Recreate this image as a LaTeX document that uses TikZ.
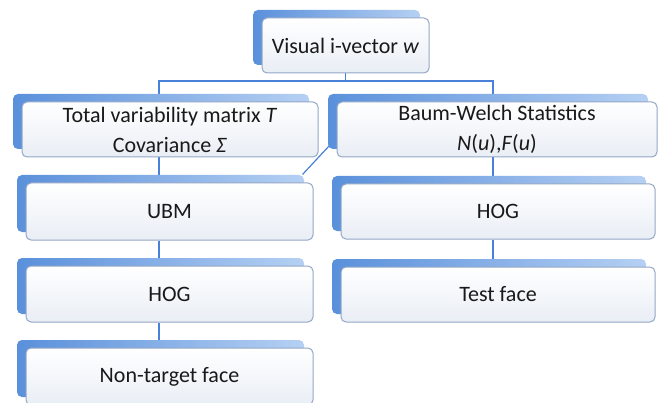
\documentclass[tikz,border=0pt]{standalone}
\usepackage{fontspec}
\setmainfont{Carlito}
\usetikzlibrary{calc,backgrounds}
\definecolor{bdark}{HTML}{5A90DB}
\definecolor{blight}{HTML}{B5D0F3}
\definecolor{cardedge}{HTML}{93A7C6}
\definecolor{cardbot}{HTML}{E9EEF5}
\definecolor{linkc}{HTML}{4880DA}
\tikzset{
  card/.style={draw=cardedge, line width=1pt, rounded corners=5pt,
    top color=white, bottom color=cardbot, align=center,
    font=\fontsize{22}{30}\selectfont, text=black!90, inner sep=0pt,
    preaction={draw=none, left color=bdark, right color=blight,
      rounded corners=6pt, transform canvas={shift={(-9pt,8pt)}}}},
  link/.style={draw=linkc, line width=1.5pt}
}
\begin{document}
\begin{tikzpicture}[x=1pt,y=-1pt]
\useasboundingbox (0,0) rectangle (660,403);
\node[card, minimum width=167pt, minimum height=55pt] (iv) at (345.5,45.5) {Visual i-vector \textit{w}};
\node[card, minimum width=296pt, minimum height=55pt] (tv) at (170,129.5) {Total variability matrix \textit{T}\\Covariance \textit{Σ}};
\node[card, minimum width=320pt, minimum height=55pt] (bw) at (497,129.5) {Baum-Welch Statistics\\\textit{N}(\textit{u}),\textit{F}(\textit{u})};
\node[card, minimum width=287pt, minimum height=57pt] (ubm) at (169.5,211.5) {UBM};
\node[card, minimum width=287pt, minimum height=56pt] (hogl) at (169.5,294) {HOG};
\node[card, minimum width=287pt, minimum height=57pt] (ntf) at (169.5,376.5) {Non-target face};
\node[card, minimum width=314pt, minimum height=55pt] (hogr) at (498,211.5) {HOG};
\node[card, minimum width=314pt, minimum height=55pt] (test) at (498,294.5) {Test face};
\coordinate (hub) at (345.5,81);
\begin{scope}[on background layer]
\draw[link] (iv.south) -- (hub);
\draw[link] ([xshift=-11pt]tv.north) |- (hub) -| ([xshift=-4pt]bw.north);
\draw[link] ([xshift=-11pt]tv.south) -- ([xshift=-10.5pt]ubm.north);
\draw[link] ([xshift=-10.5pt]ubm.south) -- ([xshift=-10.5pt]hogl.north);
\draw[link] ([xshift=-10.5pt]hogl.south) -- ([xshift=-10.5pt]ntf.north);
\draw[link] ([xshift=-4pt]bw.south) -- ([xshift=-5pt]hogr.north);
\draw[link] ([xshift=-5pt]hogr.south) -- ([xshift=-5pt]test.north);
\draw[link, line width=1.2pt] ($(bw.south west)+(-7,-12)$) -- ($(ubm.north east)+(-11,-8)$);
\end{scope}
\end{tikzpicture}
\end{document}
